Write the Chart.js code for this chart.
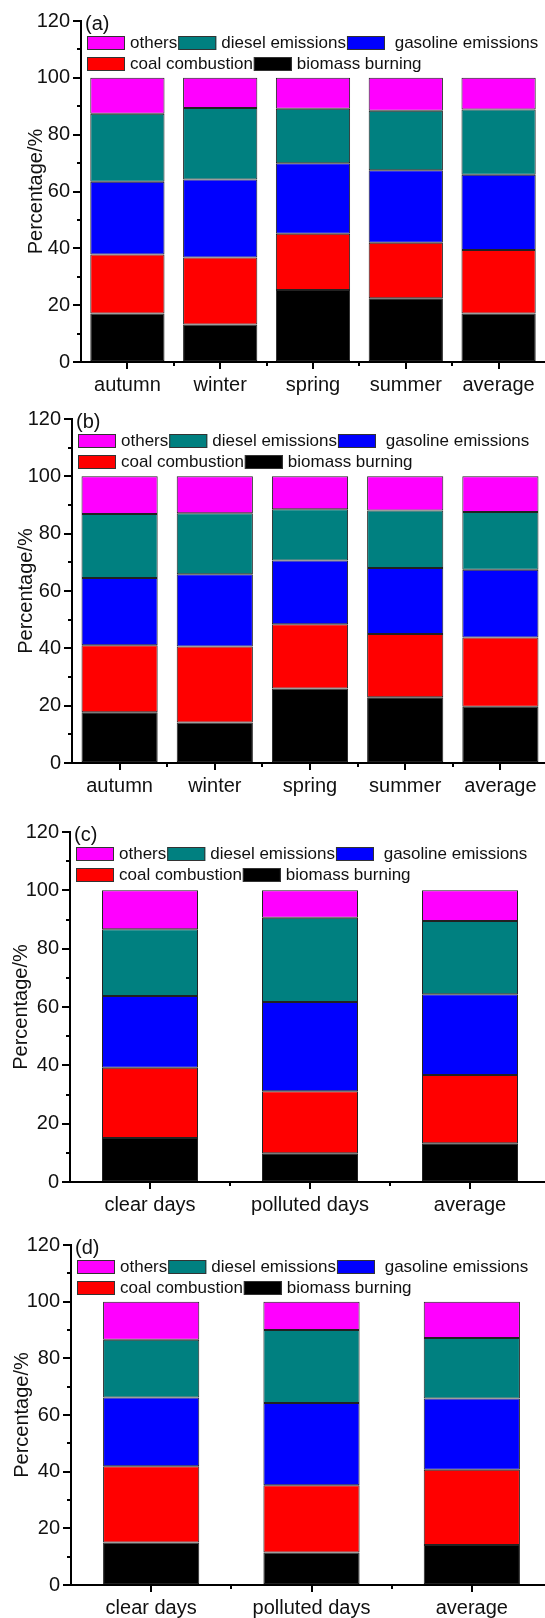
<!DOCTYPE html>
<html>
<head>
<meta charset="utf-8">
<script src="https://cdn.jsdelivr.net/npm/chart.js@4.4.1/dist/chart.umd.min.js"></script>
<style>
  html, body { margin: 0; padding: 0; background: #fff; }
  body { width: 545px; height: 1618px; position: relative; overflow: hidden; }
  .panel { position: absolute; left: 0; }
  canvas { display: block; }
</style>
</head>
<body>
<div class="panel" id="pa"><canvas id="ca"></canvas></div>
<div class="panel" id="pb"><canvas id="cb"></canvas></div>
<div class="panel" id="pc"><canvas id="cc"></canvas></div>
<div class="panel" id="pd"><canvas id="cd"></canvas></div>
<script>
// Categories
const seasons = ['autumn', 'winter', 'spring', 'summer', 'average'];
const weather = ['clear days', 'polluted days', 'average'];

// Source names (stacked bottom to top) and their fill colours
const sourceNames = ['biomass burning', 'coal combustion', ' gasoline emissions', 'diesel emissions', 'others'];
const sourceColors = ['#000000', '#FF0000', '#0000FF', '#008080', '#FF00FF'];

// Y axis
const yMin = 0, yMax = 120, yStep = 20;

// (a) contributions by season, %
const aBiomass  = [17.1, 13.2, 25.3, 22.4, 17.1];
const aCoal     = [20.7, 23.6, 19.8, 19.6, 22.3];
const aGasoline = [25.6, 27.4, 24.8, 25.5, 26.5];
const aDiesel   = [24.0, 25.2, 19.2, 20.9, 23.0];
const aOthers   = [12.6, 10.6, 10.9, 11.6, 11.1];

// (b) contributions by season, %
const bBiomass  = [17.7, 14.1, 26.0, 22.9, 19.6];
const bCoal     = [23.4, 26.5, 22.4, 22.1, 24.2];
const bGasoline = [23.4, 25.2, 22.2, 23.0, 23.6];
const bDiesel   = [22.4, 21.3, 17.9, 20.1, 20.2];
const bOthers   = [13.1, 12.9, 11.5, 11.9, 12.4];

// (c) contributions by weather type, %
const cBiomass  = [15.1, 9.9, 13.3];
const cCoal     = [24.1, 21.2, 23.4];
const cGasoline = [24.6, 30.6, 27.7];
const cDiesel   = [22.9, 28.9, 25.1];
const cOthers   = [13.3, 9.4, 10.5];

// (d) contributions by weather type, %
const dBiomass  = [15.0, 11.5, 14.1];
const dCoal     = [26.9, 23.7, 26.6];
const dGasoline = [24.3, 29.0, 25.1];
const dDiesel   = [20.4, 25.8, 21.4];
const dOthers   = [13.4, 10.0, 12.8];

const FONT = '"Liberation Sans", Arial, Helvetica, sans-serif';

// Two-row boxed legend plus the panel tag, drawn inside the plot area
const boxLegend = {
  id: 'boxLegend',
  afterDraw(chart, args, opts) {
    const { ctx, chartArea } = chart;
    const ds = chart.data.datasets.slice().reverse();
    const rows = [ds.slice(0, 3), ds.slice(3)];
    ctx.save();
    ctx.font = '17px ' + FONT;
    ctx.textBaseline = 'middle';
    ctx.textAlign = 'left';
    rows.forEach((row, r) => {
      let x = chartArea.left + 6;
      const top = chartArea.top + 15 + r * 21;
      row.forEach(d => {
        ctx.fillStyle = d.backgroundColor;
        ctx.fillRect(x, top, 38, 14);
        ctx.strokeStyle = '#333';
        ctx.lineWidth = 1;
        ctx.strokeRect(x + 0.5, top + 0.5, 37, 13);
        x += 38 + 5;
        ctx.fillStyle = '#111';
        ctx.fillText(d.label, x, top + 7.5);
        x += ctx.measureText(d.label).width + 1;
      });
    });
    ctx.font = '20px ' + FONT;
    ctx.fillStyle = '#111';
    ctx.fillText(opts.tag, chartArea.left + 4, chartArea.top + 3);
    ctx.restore();
  }
};

// Short minor ticks: mid-steps on the value axis, category boundaries on the x axis
const minorTicks = {
  id: 'minorTicks',
  afterDraw(chart) {
    const { ctx } = chart;
    const xs = chart.scales.x, ys = chart.scales.y;
    ctx.save();
    ctx.strokeStyle = '#000';
    ctx.lineWidth = 2;
    ctx.beginPath();
    for (let v = yMin + yStep / 2; v < yMax; v += yStep) {
      const py = Math.round(ys.getPixelForValue(v));
      ctx.moveTo(xs.left - 4, py);
      ctx.lineTo(xs.left, py);
    }
    const n = chart.data.labels.length;
    for (let i = 0; i < n - 1; i++) {
      const px = Math.round((xs.getPixelForValue(i) + xs.getPixelForValue(i + 1)) / 2);
      ctx.moveTo(px, ys.bottom);
      ctx.lineTo(px, ys.bottom + 4);
    }
    ctx.stroke();
    ctx.restore();
  }
};

function makePanel(divId, canvasId, cfg) {
  const div = document.getElementById(divId);
  div.style.top = cfg.top + 'px';
  div.style.width = cfg.width + 'px';
  div.style.height = cfg.height + 'px';
  const cv = document.getElementById(canvasId);
  cv.width = cfg.width;
  cv.height = cfg.height;

  const datasets = cfg.series.map((vals, i) => ({
    label: sourceNames[i],
    data: vals,
    backgroundColor: sourceColors[i],
    borderColor: '#222',
    borderWidth: 1,
    borderSkipped: false,
    barPercentage: cfg.barPct,
    categoryPercentage: 1.0
  }));

  return new Chart(cv, {
    type: 'bar',
    data: { labels: cfg.labels, datasets },
    plugins: [boxLegend, minorTicks],
    options: {
      responsive: false,
      animation: false,
      devicePixelRatio: 1,
      layout: { padding: { top: cfg.padTop, left: 0, right: 0, bottom: 0 } },
      plugins: {
        legend: { display: false },
        tooltip: { enabled: false },
        boxLegend: { tag: cfg.tag }
      },
      scales: {
        x: {
          stacked: true,
          offset: true,
          grid: { display: true, drawOnChartArea: false, offset: false, tickLength: 7, lineWidth: 2, color: '#000' },
          border: { display: true, color: '#000', width: 2 },
          ticks: { color: '#111', padding: 4, font: { family: FONT, size: 20 } },
          afterFit(s) { s.height = cfg.xHeight; }
        },
        y: {
          stacked: true,
          min: yMin,
          max: yMax,
          grid: { display: true, drawOnChartArea: false, tickLength: 8, lineWidth: 2, color: '#000' },
          border: { display: true, color: '#000', width: 2 },
          ticks: { stepSize: yStep, color: '#111', padding: 3, font: { family: FONT, size: 20 } },
          title: { display: true, text: 'Percentage/%', color: '#111', font: { family: FONT, size: 20 }, padding: { top: cfg.titlePad, bottom: 0 } },
          afterFit(s) { s.width = cfg.axisX; }
        }
      }
    }
  });
}

makePanel('pa', 'ca', {
  tag: '(a)', labels: seasons, series: [aBiomass, aCoal, aGasoline, aDiesel, aOthers],
  top: 0, width: 545, height: 400, padTop: 21, xHeight: 38, axisX: 81, titlePad: 24.5, barPct: 0.8
});
makePanel('pb', 'cb', {
  tag: '(b)', labels: seasons, series: [bBiomass, bCoal, bGasoline, bDiesel, bOthers],
  top: 400, width: 548, height: 412, padTop: 19, xHeight: 49, axisX: 72, titlePad: 14, barPct: 0.8
});
makePanel('pc', 'cc', {
  tag: '(c)', labels: weather, series: [cBiomass, cCoal, cGasoline, cDiesel, cOthers],
  top: 812, width: 550, height: 413, padTop: 20, xHeight: 43, axisX: 70, titlePad: 9, barPct: 0.6
});
makePanel('pd', 'cd', {
  tag: '(d)', labels: weather, series: [dBiomass, dCoal, dGasoline, dDiesel, dOthers],
  top: 1225, width: 552, height: 393, padTop: 20, xHeight: 33, axisX: 71, titlePad: 10.5, barPct: 0.6
});
</script>
</body>
</html>
